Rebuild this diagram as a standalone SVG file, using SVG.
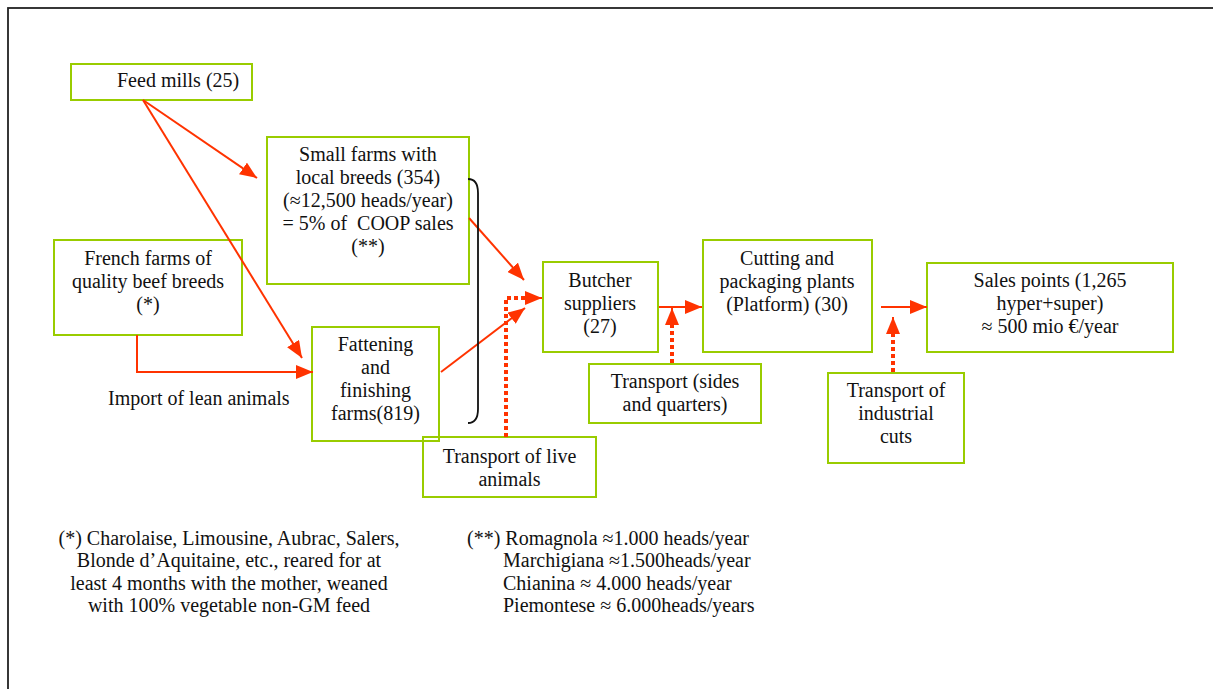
<svg xmlns="http://www.w3.org/2000/svg" width="1213" height="689" viewBox="0 0 1213 689">
<style>
.box{fill:none;stroke:#99CC00;stroke-width:2}
.t{font-family:"Liberation Serif","Times New Roman",serif;font-size:20px;fill:#111;white-space:pre}
.c{text-anchor:middle}
.a{stroke:#FF3300;stroke-width:2;fill:none}
.d{stroke:#FF3300;stroke-width:4;fill:none;stroke-dasharray:4 3}
</style>
<defs>
<marker id="ah" markerUnits="userSpaceOnUse" markerWidth="17" markerHeight="14" viewBox="0 0 17 14" refX="17" refY="7" orient="auto">
<path d="M0,0 L17,7 L0,14 z" fill="#FF3300"/>
</marker>
</defs>
<rect x="8" y="8" width="1230" height="700" fill="#fff" stroke="#222" stroke-width="1.8"/>

<g id="feed-mills">
<rect class="box" x="71" y="64" width="181" height="36"/>
<text class="t" x="117" y="87">Feed mills (25)</text>
</g>

<g id="small-farms">
<rect class="box" x="267" y="137" width="202" height="147"/>
<text class="t c" x="368" y="161">Small farms with</text>
<text class="t c" x="368" y="184">local breeds (354)</text>
<text class="t c" x="368" y="207">(≈12,500 heads/year)</text>
<text class="t c" x="368" y="230" xml:space="preserve">= 5% of  COOP sales</text>
<text class="t c" x="368" y="253">(**)</text>
</g>

<g id="french-farms">
<rect class="box" x="54" y="240" width="188" height="95"/>
<text class="t c" x="148" y="265">French farms of</text>
<text class="t c" x="148" y="288">quality beef breeds</text>
<text class="t c" x="148" y="311">(*)</text>
</g>

<g id="import-label">
<text class="t" x="108" y="405">Import of lean animals</text>
</g>

<g id="fattening">
<rect class="box" x="312" y="327" width="127" height="114"/>
<text class="t c" x="375.5" y="351">Fattening</text>
<text class="t c" x="375.5" y="374">and</text>
<text class="t c" x="375.5" y="397">finishing</text>
<text class="t c" x="375.5" y="420">farms(819)</text>
</g>

<g id="transport-live">
<rect class="box" x="423" y="437" width="173" height="60"/>
<text class="t c" x="509.5" y="463">Transport of live</text>
<text class="t c" x="509.5" y="486">animals</text>
</g>

<g id="butcher">
<rect class="box" x="543" y="262" width="115" height="90"/>
<text class="t c" x="600" y="287">Butcher</text>
<text class="t c" x="600" y="310">suppliers</text>
<text class="t c" x="600" y="333">(27)</text>
</g>

<g id="cutting">
<rect class="box" x="703" y="240" width="169" height="112"/>
<text class="t c" x="787" y="265">Cutting and</text>
<text class="t c" x="787" y="288">packaging plants</text>
<text class="t c" x="787" y="311">(Platform) (30)</text>
</g>

<g id="transport-sides">
<rect class="box" x="589" y="364" width="172" height="59"/>
<text class="t c" x="675" y="388">Transport (sides</text>
<text class="t c" x="675" y="411">and quarters)</text>
</g>

<g id="transport-cuts">
<rect class="box" x="828" y="373" width="136" height="90"/>
<text class="t c" x="896" y="397">Transport of</text>
<text class="t c" x="896" y="420">industrial</text>
<text class="t c" x="896" y="443">cuts</text>
</g>

<g id="sales-points">
<rect class="box" x="927" y="263" width="246" height="89"/>
<text class="t c" x="1050" y="287">Sales points (1,265</text>
<text class="t c" x="1050" y="310">hyper+super)</text>
<text class="t c" x="1050" y="333">≈ 500 mio €/year</text>
</g>

<g id="footnote-1">
<text class="t c" x="229" y="545">(*) Charolaise, Limousine, Aubrac, Salers,</text>
<text class="t c" x="229" y="567">Blonde d’Aquitaine, etc., reared for at</text>
<text class="t c" x="229" y="590">least 4 months with the mother, weaned</text>
<text class="t c" x="229" y="612">with 100% vegetable non-GM feed</text>
</g>

<g id="footnote-2">
<text class="t" x="467" y="545">(**) Romagnola ≈1.000 heads/year</text>
<text class="t" x="503" y="567">Marchigiana ≈1.500heads/year</text>
<text class="t" x="503" y="590">Chianina ≈ 4.000 heads/year</text>
<text class="t" x="503" y="612">Piemontese ≈ 6.000heads/years</text>
</g>

<g id="connectors">
<line class="a" x1="143" y1="100" x2="257" y2="178" marker-end="url(#ah)"/>
<line class="a" x1="143" y1="100" x2="302" y2="358" marker-end="url(#ah)"/>
<polyline class="a" points="137,335 137,372 313,372" marker-end="url(#ah)"/>
<line class="a" x1="469" y1="218" x2="524" y2="280" marker-end="url(#ah)"/>
<line class="a" x1="441" y1="372" x2="525" y2="308" marker-end="url(#ah)"/>
<polyline class="d" points="506,437 506,298 528,298"/>
<line class="a" x1="527" y1="298" x2="542" y2="298" marker-end="url(#ah)"/>
<line class="a" x1="659" y1="307" x2="702" y2="307" marker-end="url(#ah)"/>
<line class="d" x1="672" y1="363" x2="672" y2="322"/>
<line class="a" x1="672" y1="324" x2="672" y2="308" marker-end="url(#ah)"/>
<line class="a" x1="881" y1="307" x2="927" y2="307" marker-end="url(#ah)"/>
<line class="d" x1="893" y1="372" x2="893" y2="330"/>
<line class="a" x1="893" y1="332" x2="893" y2="317" marker-end="url(#ah)"/>
<path d="M468,179 Q478,179 478,193 L478,409 Q478,423 468,423" fill="none" stroke="#111" stroke-width="1.8"/>
</g>
</svg>
